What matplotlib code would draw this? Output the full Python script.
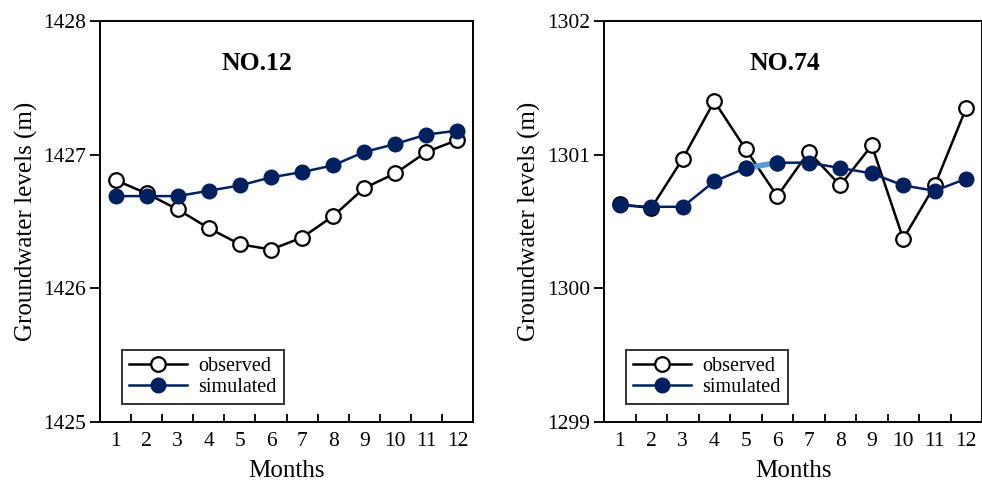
import numpy as np
import matplotlib.pyplot as plt

plt.rcParams['font.family'] = ['Liberation Serif', 'DejaVu Serif']

months = np.arange(1, 13)
month_labels = [str(m) for m in months]

# well NO.12
obs_12 = [1426.81, 1426.71, 1426.59, 1426.45, 1426.33, 1426.29,
          1426.38, 1426.54, 1426.75, 1426.86, 1427.02, 1427.11]
sim_12 = [1426.69, 1426.69, 1426.69, 1426.73, 1426.77, 1426.83,
          1426.87, 1426.92, 1427.02, 1427.08, 1427.15, 1427.18]

# well NO.74
obs_74 = [1300.63, 1300.60, 1300.97, 1301.40, 1301.04, 1300.69,
          1301.02, 1300.77, 1301.07, 1300.37, 1300.77, 1301.35]
sim_74 = [1300.62, 1300.61, 1300.61, 1300.80, 1300.90, 1300.94,
          1300.94, 1300.90, 1300.86, 1300.77, 1300.73, 1300.82]

navy = '#002060'

fig = plt.figure(figsize=(9.82, 4.88), dpi=100)
ax1 = fig.add_axes([100 / 982, 66 / 488, 373 / 982, 401 / 488])
ax2 = fig.add_axes([604 / 982, 66 / 488, 378 / 982, 401 / 488])


def draw(ax, obs, sim, ylim, title, tx, highlight=None):
    ax.plot(months, obs, '-o', color='black', lw=1.8, ms=10.5,
            mfc='white', mec='black', mew=1.6, label='observed', zorder=3)
    ax.plot(months, sim, '-o', color=navy, lw=1.8, ms=10.5,
            mfc=navy, mec=navy, label='simulated', zorder=4)
    if highlight is not None:
        i = highlight
        ax.plot(months[i:i + 2], sim[i:i + 2], color='#5b9bd5', lw=4,
                solid_capstyle='butt', zorder=4.5)
        ax.plot(months[i:i + 2], sim[i:i + 2], 'o', ms=10.5, mfc=navy,
                mec=navy, zorder=5)
    ax.set_xlim(0.5, 12.5)
    ax.set_ylim(*ylim)
    ax.set_yticks(np.arange(ylim[0], ylim[1] + 1, 1))
    # ticks sit between the month categories
    ax.set_xticks(np.arange(0.5, 13, 1))
    ax.set_xticklabels([])
    ax.set_xticks(months, minor=True)
    ax.set_xticklabels(month_labels, minor=True)
    ax.tick_params(axis='x', which='major', direction='in', length=6, width=1.3)
    ax.tick_params(axis='x', which='minor', length=0, pad=7, labelsize=15.5)
    ax.tick_params(axis='y', direction='out', length=7, width=1.3,
                   labelsize=15.5, pad=3)
    for s in ax.spines.values():
        s.set_linewidth(1.4)
    ax.set_xlabel('Months', fontsize=18, labelpad=7)
    ax.set_ylabel('Groundwater levels (m)', fontsize=18, labelpad=4)
    ax.text(tx, 0.895, title, transform=ax.transAxes, ha='center',
            va='center', fontsize=18.5, fontweight='bold')
    leg = ax.legend(loc='lower left', bbox_to_anchor=(0.058, 0.045),
                    fontsize=14.5, frameon=True, fancybox=False,
                    edgecolor='black', borderpad=0.35, labelspacing=0.1,
                    handlelength=2.9, handletextpad=0.55, borderaxespad=0)
    leg.get_frame().set_linewidth(1.4)


draw(ax1, obs_12, sim_12, (1425, 1428), 'NO.12', 0.42)
draw(ax2, obs_74, sim_74, (1299, 1302), 'NO.74', 0.479, highlight=4)

fig.savefig('out.png', dpi=100)
